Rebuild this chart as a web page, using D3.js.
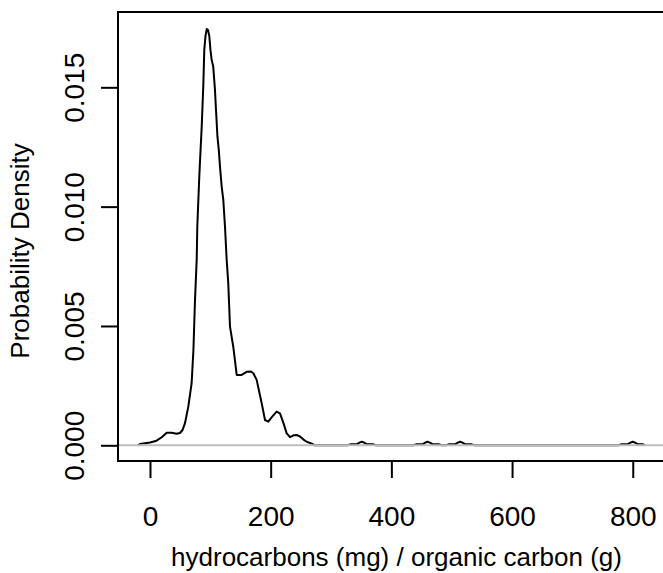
<!DOCTYPE html>
<html>
<head>
<meta charset="utf-8">
<script src="https://cdn.jsdelivr.net/npm/d3@7"></script>
<style>
  body { margin:0; background:#fff; }
  svg { display:block; font-family:"Liberation Sans", Arial, sans-serif; }
</style>
</head>
<body>
<svg id="chart" width="663" height="573"></svg>
<script>
// density curve
const xs = [-20, -16.6, 0, 11, 20, 27.7, 36, 44, 49.7, 54, 58, 63.5, 69, 72, 74.6, 77.4, 78.4, 81.7, 85.7, 88.3, 90, 92, 94, 96, 98.3, 100.2, 102.2, 104.8, 107.7, 109.4, 111.8, 114, 116, 118.8, 121.5, 124.3, 127.1, 129.7, 132.6, 138, 143.7, 151.9, 160.2, 167.4, 171.2, 176.8, 185.1, 190.6, 196, 202.2, 209.9, 215.4, 221.2, 226.5, 232, 237.8, 243.1, 248.6, 254.4, 259.7, 268, 273,
  327, 332, 343, 348, 351, 354, 359, 370, 375,
  436, 441, 452, 457, 460, 463, 468, 479, 484,
  490, 495, 506, 511, 514, 517, 522, 533, 538,
  776, 781, 792, 797, 800, 803, 808, 817, 820];
const dens = [0, 0.000054, 0.000117, 0.000193, 0.000348, 0.000528, 0.000528, 0.000482, 0.000516, 0.000641, 0.000926, 0.00162, 0.0026, 0.0040, 0.00609, 0.00777, 0.00916, 0.01126, 0.01335, 0.01503, 0.01657, 0.01715, 0.01744, 0.01741, 0.01715, 0.01657, 0.01615, 0.01587, 0.01489, 0.01405, 0.01293, 0.01238, 0.01168, 0.01084, 0.01028, 0.00916, 0.00777, 0.0068, 0.00497, 0.00413, 0.00295, 0.00295, 0.00308, 0.00309, 0.00302, 0.00274, 0.00176, 0.00106, 0.00099, 0.00119, 0.00141, 0.00134, 0.00093, 0.0005, 0.00034, 0.00042, 0.00043, 0.00037, 0.00024, 0.00015, 0.00007, 0,
  0, 0.00004, 0.00005, 0.00012, 0.00015, 0.00012, 0.00005, 0.00004, 0,
  0, 0.00004, 0.00005, 0.00012, 0.00015, 0.00012, 0.00005, 0.00004, 0,
  0, 0.00004, 0.00005, 0.00012, 0.00015, 0.00012, 0.00005, 0.00004, 0,
  0, 0.00004, 0.00005, 0.00012, 0.00015, 0.00012, 0.00005, 0.00004, 0];

const xTicks = [0, 200, 400, 600, 800];
const yTicks = [0, 0.005, 0.010, 0.015];

const box = {left:118, right:675, top:12, bottom:461};

const svg = d3.select("#chart");

const x = d3.scaleLinear()
  .domain([-53, 870])
  .range([box.left, box.right]);

const y = d3.scaleLinear()
  .domain([-0.000658, 0.018156])
  .range([box.bottom, box.top]);

svg.append("defs").append("clipPath")
  .attr("id","plotclip")
  .append("rect")
  .attr("x",box.left).attr("y",box.top)
  .attr("width",box.right-box.left).attr("height",box.bottom-box.top);

const pts = xs.map((v,i)=>[v, dens[i]]);

// curve
svg.append("path")
  .datum(pts)
  .attr("clip-path","url(#plotclip)")
  .attr("fill","none")
  .attr("stroke","#000")
  .attr("stroke-width",2)
  .attr("stroke-linejoin","round")
  .attr("d", d3.line().x(d=>x(d[0])).y(d=>y(d[1])));

// zero line on top, like abline(h=0, col="gray")
svg.append("line")
  .attr("x1",box.left).attr("x2",box.right)
  .attr("y1",y(0)).attr("y2",y(0))
  .attr("stroke","#bebebe")
  .attr("stroke-width",2);

// box
svg.append("rect")
  .attr("x",box.left).attr("y",box.top)
  .attr("width",box.right-box.left).attr("height",box.bottom-box.top)
  .attr("fill","none")
  .attr("stroke","#000")
  .attr("stroke-width",2);

// x axis
const gx = svg.append("g")
  .attr("transform",`translate(0,${box.bottom})`)
  .call(d3.axisBottom(x).tickValues(xTicks).tickSize(17).tickSizeOuter(0).tickFormat(d3.format("d")));
gx.select(".domain").remove();
gx.selectAll(".tick line").attr("stroke","#000").attr("stroke-width",2);
gx.selectAll(".tick text")
  .attr("y",65).attr("dy",0)
  .attr("fill","#000")
  .style("font-size","28px")
  .style("font-family","'Liberation Sans', Arial, sans-serif");

// y axis
const gy = svg.append("g")
  .attr("transform",`translate(${box.left},0)`)
  .call(d3.axisLeft(y).tickValues(yTicks).tickSize(17).tickSizeOuter(0).tickFormat(d3.format(".3f")));
gy.select(".domain").remove();
gy.selectAll(".tick line").attr("stroke","#000").attr("stroke-width",2);
gy.selectAll(".tick text")
  .attr("x",0).attr("dy",0)
  .attr("text-anchor","middle")
  .attr("transform","translate(-34,0) rotate(-90)")
  .attr("fill","#000")
  .style("font-size","28px")
  .style("font-family","'Liberation Sans', Arial, sans-serif");

// axis titles
svg.append("text")
  .attr("x",(box.left+box.right)/2)
  .attr("y",566)
  .attr("text-anchor","middle")
  .style("font-size","26px")
  .text("hydrocarbons (mg) / organic carbon (g)");

svg.append("text")
  .attr("transform","translate(29,251) rotate(-90)")
  .attr("text-anchor","middle")
  .style("font-size","26px")
  .text("Probability Density");
</script>
</body>
</html>
